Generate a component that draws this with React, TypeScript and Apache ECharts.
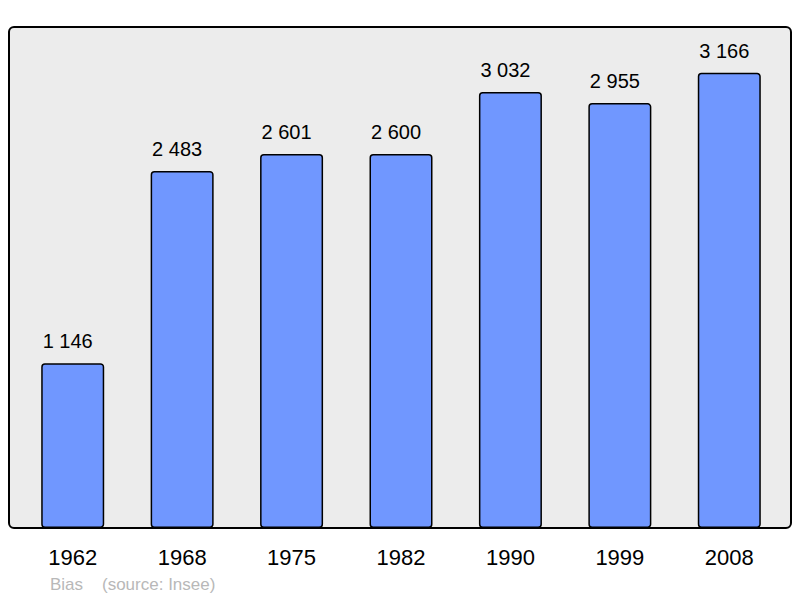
import React, { useEffect, useRef } from "react";
import * as echarts from "echarts";

const years = ["1962", "1968", "1975", "1982", "1990", "1999", "2008"];
const population = [1146, 2483, 2601, 2600, 3032, 2955, 3166];
const footerName = "Bias";
const footerSource = "(source: Insee)";

const fmt = (v: number) => {
  const s = String(v);
  return s.length > 3 ? s.slice(0, s.length - 3) + " " + s.slice(-3) : s;
};

export default function App() {
  const ref = useRef<HTMLDivElement>(null);
  useEffect(() => {
    document.body.style.margin = "0";
    const chart = echarts.init(ref.current!, undefined, { renderer: "svg" });
    const font = "'Liberation Sans', Arial, sans-serif";
    chart.setOption({
      animation: false,
      backgroundColor: "#ffffff",
      grid: { left: 18, right: 16, top: 27, bottom: 70 },
      xAxis: {
        type: "category",
        data: years,
        axisLine: { show: false },
        axisTick: { show: false },
        axisLabel: { color: "#000", fontSize: 22, fontFamily: font, margin: 18 },
      },
      yAxis: {
        type: "value",
        min: 0,
        max: 3484,
        show: false,
        splitLine: { show: false },
      },
      graphic: [
        {
          type: "rect",
          z: -10,
          shape: { x: 9, y: 27, width: 782, height: 501, r: 5 },
          style: { fill: "#ececec", stroke: "#000", lineWidth: 2 },
        },
        {
          type: "text",
          x: 50,
          y: 584,
          style: { text: footerName, fill: "#b8b8b8", font: `17px ${font}`, verticalAlign: "middle" },
        },
        {
          type: "text",
          x: 102,
          y: 584,
          style: { text: footerSource, fill: "#b8b8b8", font: `17px ${font}`, verticalAlign: "middle" },
        },
      ],
      series: [
        {
          type: "bar",
          data: population,
          barWidth: 63,
          itemStyle: { color: "#7097ff", borderColor: "#000", borderWidth: 1.5, borderRadius: 3 },
          label: {
            show: true,
            position: "top",
            distance: 12,
            offset: [-5, 0],
            color: "#000",
            fontSize: 20,
            fontFamily: font,
            formatter: (p: any) => fmt(p.value),
          },
        },
      ],
    });
    return () => chart.dispose();
  }, []);
  return <div ref={ref} style={{ width: 800, height: 598 }} />;
}
